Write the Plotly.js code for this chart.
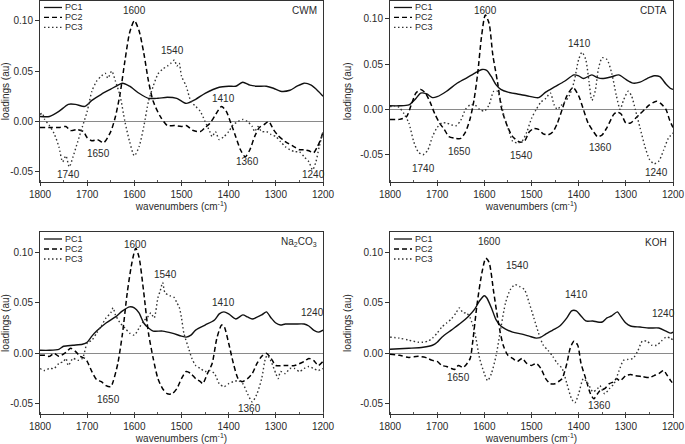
<!DOCTYPE html>
<html><head><meta charset="utf-8">
<script src="https://cdn.plot.ly/plotly-3.0.1.min.js"></script>
<style>html,body{margin:0;padding:0;background:#fff}#chart{width:685px;height:444px}</style>
</head><body><div id="chart"></div>
<script>
// ---------- DATA ----------
const panelNames = ["CWM", "CDTA", "Na<sub>2</sub>CO<sub>3</sub>", "KOH"];
const seriesNames = ["PC1", "PC2", "PC3"];
const xTicks = [1800, 1700, 1600, 1500, 1400, 1300, 1200];
const yTicks = [-0.05, 0.00, 0.05, 0.10];
const yTickText = ["-0.05", "0.00", "0.05", "0.10"];

// CWM
const cwm_pc1_x = [1800,1780,1760,1740,1725,1705,1690,1670,1650,1625,1610,1590,1570,1550,1530,1510,1490,1470,1450,1420,1400,1385,1370,1355,1340,1320,1305,1290,1270,1255,1240,1225,1210,1200];
const cwm_pc1_y = [0.005,0.005,0.010,0.017,0.017,0.015,0.021,0.027,0.032,0.038,0.035,0.028,0.023,0.023,0.024,0.023,0.018,0.022,0.028,0.034,0.035,0.035,0.039,0.036,0.035,0.035,0.033,0.030,0.031,0.035,0.038,0.036,0.030,0.025];
const cwm_pc2_x = [1800,1780,1760,1745,1735,1720,1708,1700,1690,1678,1665,1650,1640,1630,1620,1610,1600,1590,1580,1570,1560,1545,1530,1515,1500,1490,1475,1460,1450,1440,1430,1415,1405,1395,1385,1375,1365,1355,1345,1335,1325,1315,1305,1295,1280,1265,1250,1240,1230,1220,1212,1205,1200];
const cwm_pc2_y = [-0.006,-0.006,-0.006,-0.005,-0.009,-0.008,-0.010,-0.016,-0.019,-0.018,-0.021,-0.010,0.005,0.028,0.060,0.088,0.100,0.090,0.068,0.040,0.020,0.005,-0.004,-0.004,-0.005,-0.004,-0.009,-0.010,-0.006,-0.002,0.005,0.015,0.010,-0.002,-0.015,-0.028,-0.035,-0.028,-0.015,-0.006,-0.003,0.000,-0.008,-0.014,-0.020,-0.024,-0.028,-0.028,-0.029,-0.031,-0.025,-0.018,-0.010];
const cwm_pc3_x = [1800,1795,1790,1780,1770,1760,1752,1745,1738,1730,1720,1710,1700,1690,1680,1670,1662,1656,1648,1640,1630,1620,1610,1600,1590,1580,1570,1560,1550,1540,1530,1522,1515,1510,1505,1500,1490,1480,1470,1460,1450,1440,1435,1428,1420,1410,1400,1390,1380,1370,1360,1350,1345,1338,1330,1320,1310,1300,1290,1280,1270,1260,1250,1240,1230,1222,1215,1208,1200];
const cwm_pc3_y = [0.007,0.008,0.002,-0.004,-0.012,-0.025,-0.040,-0.034,-0.045,-0.035,-0.020,-0.005,0.010,0.030,0.040,0.045,0.048,0.043,0.050,0.040,0.025,0.000,-0.020,-0.034,-0.025,-0.005,0.020,0.035,0.047,0.052,0.055,0.058,0.061,0.055,0.058,0.045,0.035,0.020,0.015,0.010,0.000,-0.010,-0.015,-0.010,-0.018,-0.015,-0.010,-0.003,0.000,0.002,0.000,-0.005,-0.010,-0.005,-0.010,-0.010,-0.013,-0.015,-0.020,-0.025,-0.028,-0.030,-0.030,-0.035,-0.040,-0.048,-0.040,-0.025,-0.010];

// CDTA
const cdta_pc1_x = [1800,1780,1760,1745,1735,1722,1710,1700,1680,1660,1640,1620,1605,1595,1585,1575,1565,1550,1530,1510,1485,1470,1450,1430,1410,1400,1390,1372,1360,1350,1330,1315,1300,1285,1270,1255,1240,1228,1215,1205,1200];
const cdta_pc1_y = [0.004,0.004,0.005,0.012,0.018,0.017,0.013,0.014,0.020,0.028,0.034,0.040,0.044,0.043,0.036,0.027,0.022,0.019,0.017,0.015,0.013,0.019,0.025,0.031,0.038,0.037,0.034,0.038,0.035,0.034,0.036,0.038,0.033,0.029,0.030,0.034,0.037,0.036,0.028,0.023,0.022];
const cdta_pc2_x = [1800,1780,1765,1755,1745,1735,1725,1715,1705,1695,1685,1675,1660,1650,1640,1630,1622,1614,1606,1598,1590,1582,1572,1563,1550,1540,1525,1515,1505,1495,1485,1475,1465,1455,1445,1435,1425,1412,1400,1390,1380,1368,1360,1350,1340,1325,1318,1310,1300,1290,1280,1270,1260,1250,1235,1225,1215,1207,1200];
const cdta_pc2_y = [-0.011,-0.011,-0.008,0.005,0.018,0.022,0.018,0.008,-0.005,-0.015,-0.022,-0.030,-0.032,-0.032,-0.025,-0.010,0.010,0.040,0.080,0.104,0.095,0.060,0.030,0.000,-0.020,-0.030,-0.036,-0.035,-0.025,-0.021,-0.022,-0.027,-0.028,-0.025,-0.015,0.000,0.015,0.024,0.015,0.000,-0.015,-0.025,-0.030,-0.028,-0.020,-0.005,-0.003,-0.005,-0.015,-0.015,-0.010,-0.005,0.000,0.005,0.009,0.006,0.000,-0.012,-0.020];
const cdta_pc3_x = [1800,1790,1780,1770,1760,1750,1740,1730,1720,1710,1700,1690,1680,1670,1660,1650,1640,1630,1620,1610,1600,1590,1580,1572,1565,1558,1550,1540,1530,1520,1510,1500,1490,1480,1470,1460,1452,1445,1438,1430,1420,1410,1400,1393,1385,1378,1372,1365,1358,1350,1340,1330,1320,1312,1305,1295,1288,1280,1270,1260,1250,1240,1230,1220,1210,1200];
const cdta_pc3_y = [0.003,0.004,0.002,-0.005,-0.015,-0.035,-0.047,-0.050,-0.045,-0.030,-0.020,-0.015,-0.015,-0.017,-0.018,-0.012,0.000,0.005,0.005,0.000,-0.002,0.005,0.020,0.020,0.008,-0.008,-0.020,-0.035,-0.037,-0.035,-0.025,-0.010,0.000,0.008,0.012,0.018,0.005,0.000,0.004,0.008,0.015,0.030,0.055,0.063,0.055,0.030,0.010,0.020,0.045,0.057,0.055,0.040,0.015,0.000,0.010,0.020,0.015,0.000,-0.020,-0.040,-0.055,-0.060,-0.057,-0.045,-0.032,-0.026];

// Na2CO3
const na_pc1_x = [1800,1780,1760,1750,1730,1710,1700,1690,1680,1660,1640,1625,1610,1600,1590,1580,1570,1560,1540,1520,1500,1490,1480,1470,1450,1430,1420,1410,1400,1385,1370,1360,1350,1330,1320,1310,1300,1290,1280,1260,1240,1230,1220,1210,1200];
const na_pc1_y = [0.003,0.003,0.004,0.007,0.008,0.009,0.011,0.017,0.022,0.030,0.036,0.042,0.046,0.045,0.040,0.030,0.025,0.022,0.022,0.020,0.017,0.016,0.018,0.023,0.028,0.033,0.039,0.041,0.039,0.034,0.038,0.036,0.034,0.038,0.041,0.035,0.030,0.028,0.029,0.029,0.029,0.027,0.023,0.021,0.023];
const na_pc2_x = [1800,1790,1780,1770,1760,1745,1735,1725,1715,1705,1700,1690,1680,1670,1660,1650,1645,1635,1625,1615,1605,1597,1590,1580,1570,1560,1550,1540,1530,1520,1510,1500,1490,1480,1470,1460,1455,1445,1435,1425,1415,1410,1400,1390,1380,1372,1360,1350,1340,1330,1320,1310,1300,1280,1260,1240,1230,1220,1210,1200];
const na_pc2_y = [-0.002,-0.002,-0.003,0.000,-0.003,0.001,0.005,0.002,-0.003,-0.005,-0.008,-0.018,-0.026,-0.028,-0.032,-0.033,-0.028,-0.010,0.020,0.060,0.090,0.104,0.095,0.060,0.020,-0.005,-0.025,-0.035,-0.040,-0.040,-0.035,-0.025,-0.018,-0.020,-0.025,-0.028,-0.030,-0.020,-0.010,0.015,0.028,0.027,0.010,-0.010,-0.025,-0.028,-0.025,-0.020,-0.010,-0.003,0.000,-0.005,-0.012,-0.012,-0.012,-0.008,-0.005,-0.007,-0.012,-0.008];
const na_pc3_x = [1800,1790,1780,1770,1760,1750,1745,1740,1730,1720,1710,1700,1690,1680,1670,1660,1650,1645,1640,1630,1620,1610,1600,1590,1580,1570,1565,1558,1550,1545,1540,1535,1525,1515,1510,1505,1500,1495,1485,1478,1470,1460,1450,1440,1430,1420,1410,1400,1390,1380,1370,1360,1350,1340,1330,1322,1318,1310,1300,1295,1290,1280,1270,1260,1250,1240,1230,1220,1210,1200];
const na_pc3_y = [-0.015,-0.017,-0.015,-0.015,-0.010,-0.008,-0.005,-0.012,-0.005,-0.007,-0.005,0.010,0.013,0.020,0.027,0.035,0.040,0.045,0.038,0.030,0.025,0.020,0.018,0.025,0.032,0.037,0.040,0.035,0.055,0.062,0.070,0.060,0.057,0.055,0.050,0.046,0.035,0.020,0.005,-0.005,-0.012,-0.015,-0.018,-0.017,-0.020,-0.030,-0.033,-0.030,-0.028,-0.027,-0.030,-0.040,-0.048,-0.040,-0.025,-0.005,-0.002,-0.008,-0.020,-0.025,-0.018,-0.020,-0.015,-0.015,-0.018,-0.015,-0.013,-0.015,-0.017,-0.015];

// KOH
const koh_pc1_x = [1800,1760,1730,1710,1700,1690,1670,1650,1635,1620,1610,1600,1595,1585,1575,1565,1555,1540,1520,1505,1490,1480,1470,1455,1440,1425,1415,1405,1395,1385,1370,1360,1350,1340,1330,1318,1310,1300,1290,1270,1250,1230,1215,1205,1200];
const koh_pc1_y = [0.004,0.005,0.006,0.008,0.011,0.016,0.023,0.030,0.036,0.044,0.052,0.057,0.055,0.045,0.033,0.027,0.024,0.021,0.019,0.017,0.015,0.016,0.019,0.023,0.027,0.035,0.042,0.042,0.037,0.032,0.032,0.031,0.031,0.035,0.037,0.041,0.036,0.030,0.027,0.026,0.025,0.025,0.022,0.020,0.021];
const koh_pc2_x = [1800,1780,1760,1740,1725,1720,1710,1700,1690,1680,1670,1663,1655,1645,1640,1630,1625,1615,1605,1597,1590,1580,1570,1560,1550,1540,1530,1520,1510,1500,1490,1480,1470,1460,1450,1440,1435,1425,1418,1410,1402,1395,1385,1375,1368,1360,1355,1345,1335,1325,1320,1312,1300,1290,1280,1265,1250,1240,1230,1220,1212,1205,1200];
const koh_pc2_y = [-0.001,-0.002,-0.004,-0.003,-0.004,-0.005,-0.007,-0.008,-0.012,-0.013,-0.015,-0.016,-0.012,-0.014,-0.012,-0.005,0.010,0.050,0.080,0.094,0.090,0.060,0.030,0.008,-0.002,-0.005,-0.008,-0.005,-0.010,-0.012,-0.010,-0.015,-0.025,-0.030,-0.030,-0.027,-0.025,-0.010,0.005,0.012,0.008,-0.010,-0.025,-0.040,-0.045,-0.040,-0.037,-0.035,-0.030,-0.028,-0.025,-0.027,-0.022,-0.021,-0.022,-0.023,-0.024,-0.022,-0.020,-0.017,-0.022,-0.027,-0.030];
const koh_pc3_x = [1800,1780,1760,1740,1730,1720,1710,1700,1690,1680,1670,1660,1653,1645,1638,1630,1620,1610,1600,1593,1585,1575,1565,1555,1545,1535,1525,1515,1505,1495,1485,1475,1465,1455,1445,1435,1425,1415,1408,1400,1390,1380,1370,1360,1355,1345,1335,1325,1315,1305,1295,1285,1275,1265,1255,1245,1235,1225,1215,1205,1200];
const koh_pc3_y = [0.016,0.015,0.013,0.011,0.011,0.012,0.015,0.020,0.026,0.030,0.034,0.040,0.045,0.040,0.040,0.035,0.020,-0.005,-0.020,-0.027,-0.020,-0.002,0.025,0.050,0.063,0.068,0.066,0.063,0.050,0.035,0.020,0.008,0.003,-0.003,-0.010,-0.015,-0.030,-0.045,-0.049,-0.040,-0.025,-0.030,-0.038,-0.035,-0.032,-0.040,-0.035,-0.030,-0.018,-0.007,-0.006,-0.005,0.002,0.012,0.012,0.008,0.008,0.012,0.016,0.015,0.013];

// Peak labels
const cwm_peaks_text = ["1600","1540","1410","1650","1740","1360","1240"];
const cwm_peaks_x = [1599,1519,1410,1675,1739,1360,1221];
const cwm_peaks_y = [0.110,0.070,0.023,-0.032,-0.0525,-0.040,-0.053];
const cdta_peaks_text = ["1600","1410","1650","1540","1740","1360","1240"];
const cdta_peaks_x = [1597,1399,1652,1521,1729,1354,1235];
const cdta_peaks_y = [0.109,0.073,-0.046,-0.051,-0.065,-0.042,-0.070];
const na_peaks_text = ["1600","1540","1410","1240","1650","1360"];
const na_peaks_x = [1597,1534,1410,1223,1655,1355];
const na_peaks_y = [0.108,0.078,0.050,0.040,-0.046,-0.055];
const koh_peaks_text = ["1600","1540","1410","1240","1650","1360"];
const koh_peaks_x = [1590,1530,1405,1221,1655,1355];
const koh_peaks_y = [0.111,0.087,0.058,0.039,-0.024,-0.052];

const yRanges = [[-0.06,0.12],[-0.08,0.12],[-0.06,0.12],[-0.06,0.12]];

// ---------- BUILD ----------
const W = 685, H = 444;
const boxes = [ // pixel boxes: left, right, top, bottom
  [40, 323, 0.5, 182],
  [390, 673, 0.5, 182],
  [40, 323, 232, 414],
  [390, 673, 232, 414]
];
const panels = [
  {xs:[cwm_pc1_x,cwm_pc2_x,cwm_pc3_x], ys:[cwm_pc1_y,cwm_pc2_y,cwm_pc3_y], pt:cwm_peaks_text, px:cwm_peaks_x, py:cwm_peaks_y},
  {xs:[cdta_pc1_x,cdta_pc2_x,cdta_pc3_x], ys:[cdta_pc1_y,cdta_pc2_y,cdta_pc3_y], pt:cdta_peaks_text, px:cdta_peaks_x, py:cdta_peaks_y},
  {xs:[na_pc1_x,na_pc2_x,na_pc3_x], ys:[na_pc1_y,na_pc2_y,na_pc3_y], pt:na_peaks_text, px:na_peaks_x, py:na_peaks_y},
  {xs:[koh_pc1_x,koh_pc2_x,koh_pc3_x], ys:[koh_pc1_y,koh_pc2_y,koh_pc3_y], pt:koh_peaks_text, px:koh_peaks_x, py:koh_peaks_y}
];
const lineStyles = [
  {color:'#111', width:1.4, dash:'solid'},
  {color:'#000', width:1.5, dash:'5px,3px'},
  {color:'#333', width:1.4, dash:'1.5px,2.5px'}
];
const FONT = 'Liberation Sans, Arial, sans-serif';
const TXT = '#2a2a2a';

const traces = [];
const layout = {
  width: W, height: H,
  margin: {l:0, r:0, t:0, b:0},
  paper_bgcolor: '#fff', plot_bgcolor: '#fff',
  showlegend: false,
  font: {family: FONT, size: 10, color: TXT},
  annotations: [], shapes: []
};

panels.forEach((p, i) => {
  const n = i + 1;
  const xa = 'x' + (n === 1 ? '' : n), ya = 'y' + (n === 1 ? '' : n);
  const b = boxes[i];
  p.xs.forEach((xs, k) => {
    traces.push({
      type: 'scatter', mode: 'lines', x: xs, y: p.ys[k], name: seriesNames[k],
      xaxis: xa, yaxis: ya,
      line: Object.assign({shape:'spline', smoothing:0.7}, lineStyles[k]),
      hoverinfo: 'skip'
    });
  });
  layout['xaxis' + (n === 1 ? '' : n)] = {
    domain: [b[0]/W, b[1]/W], anchor: ya,
    range: [1800, 1200], tickvals: xTicks, ticks: 'outside', ticklen: 3, tickwidth: 1, tickcolor: '#333',
    minor: {dtick: 50, tick0: 1200, ticks: 'inside', ticklen: 2, tickcolor: '#555'},
    showline: true, mirror: true, linecolor: '#333', linewidth: 1,
    showgrid: false, zeroline: false,
    tickfont: {family: FONT, size: 10, color: TXT},
    title: {text: 'wavenumbers (cm<sup>-1</sup>)', font: {family: FONT, size: 10, color: TXT}, standoff: 3}
  };
  layout['yaxis' + (n === 1 ? '' : n)] = {
    domain: [1 - b[3]/H, 1 - b[2]/H], anchor: xa,
    range: yRanges[i], tickvals: yTicks, ticktext: yTickText, ticks: 'outside', ticklen: 4, tickwidth: 1, tickcolor: '#333',
    showline: true, mirror: true, linecolor: '#333', linewidth: 1,
    showgrid: false, zeroline: true, zerolinecolor: '#8a8a8a', zerolinewidth: 1,
    tickfont: {family: FONT, size: 10, color: TXT},
    title: {text: 'loadings (au)', font: {family: FONT, size: 10, color: TXT}, standoff: 6}
  };
  // panel label
  layout.annotations.push({
    xref: xa + ' domain', yref: ya + ' domain', x: 0.985, y: 1 - 10/182,
    xanchor: 'right', yanchor: 'middle', showarrow: false, text: panelNames[i],
    font: {family: FONT, size: 10, color: TXT}
  });
  // peak labels
  p.pt.forEach((t, k) => {
    layout.annotations.push({
      xref: xa, yref: ya, x: p.px[k], y: p.py[k], text: t, showarrow: false,
      xanchor: 'center', yanchor: 'middle', font: {family: FONT, size: 10, color: TXT}
    });
  });
  // legend (drawn inside, compact)
  const rows = [7, 17, 27];
  rows.forEach((r, k) => {
    const yy = 1 - r/182;
    layout.shapes.push({
      type: 'line', xref: xa + ' domain', yref: ya + ' domain',
      x0: 4/283, x1: 22/283, y0: yy, y1: yy,
      line: {color: lineStyles[k].color, width: 1.3, dash: lineStyles[k].dash}
    });
    layout.annotations.push({
      xref: xa + ' domain', yref: ya + ' domain', x: 23/283, y: yy,
      xanchor: 'left', yanchor: 'middle', showarrow: false, text: seriesNames[k],
      font: {family: FONT, size: 9, color: TXT}
    });
  });
});

Plotly.newPlot('chart', traces, layout, {staticPlot: true, displayModeBar: false});
</script>
</body></html>
